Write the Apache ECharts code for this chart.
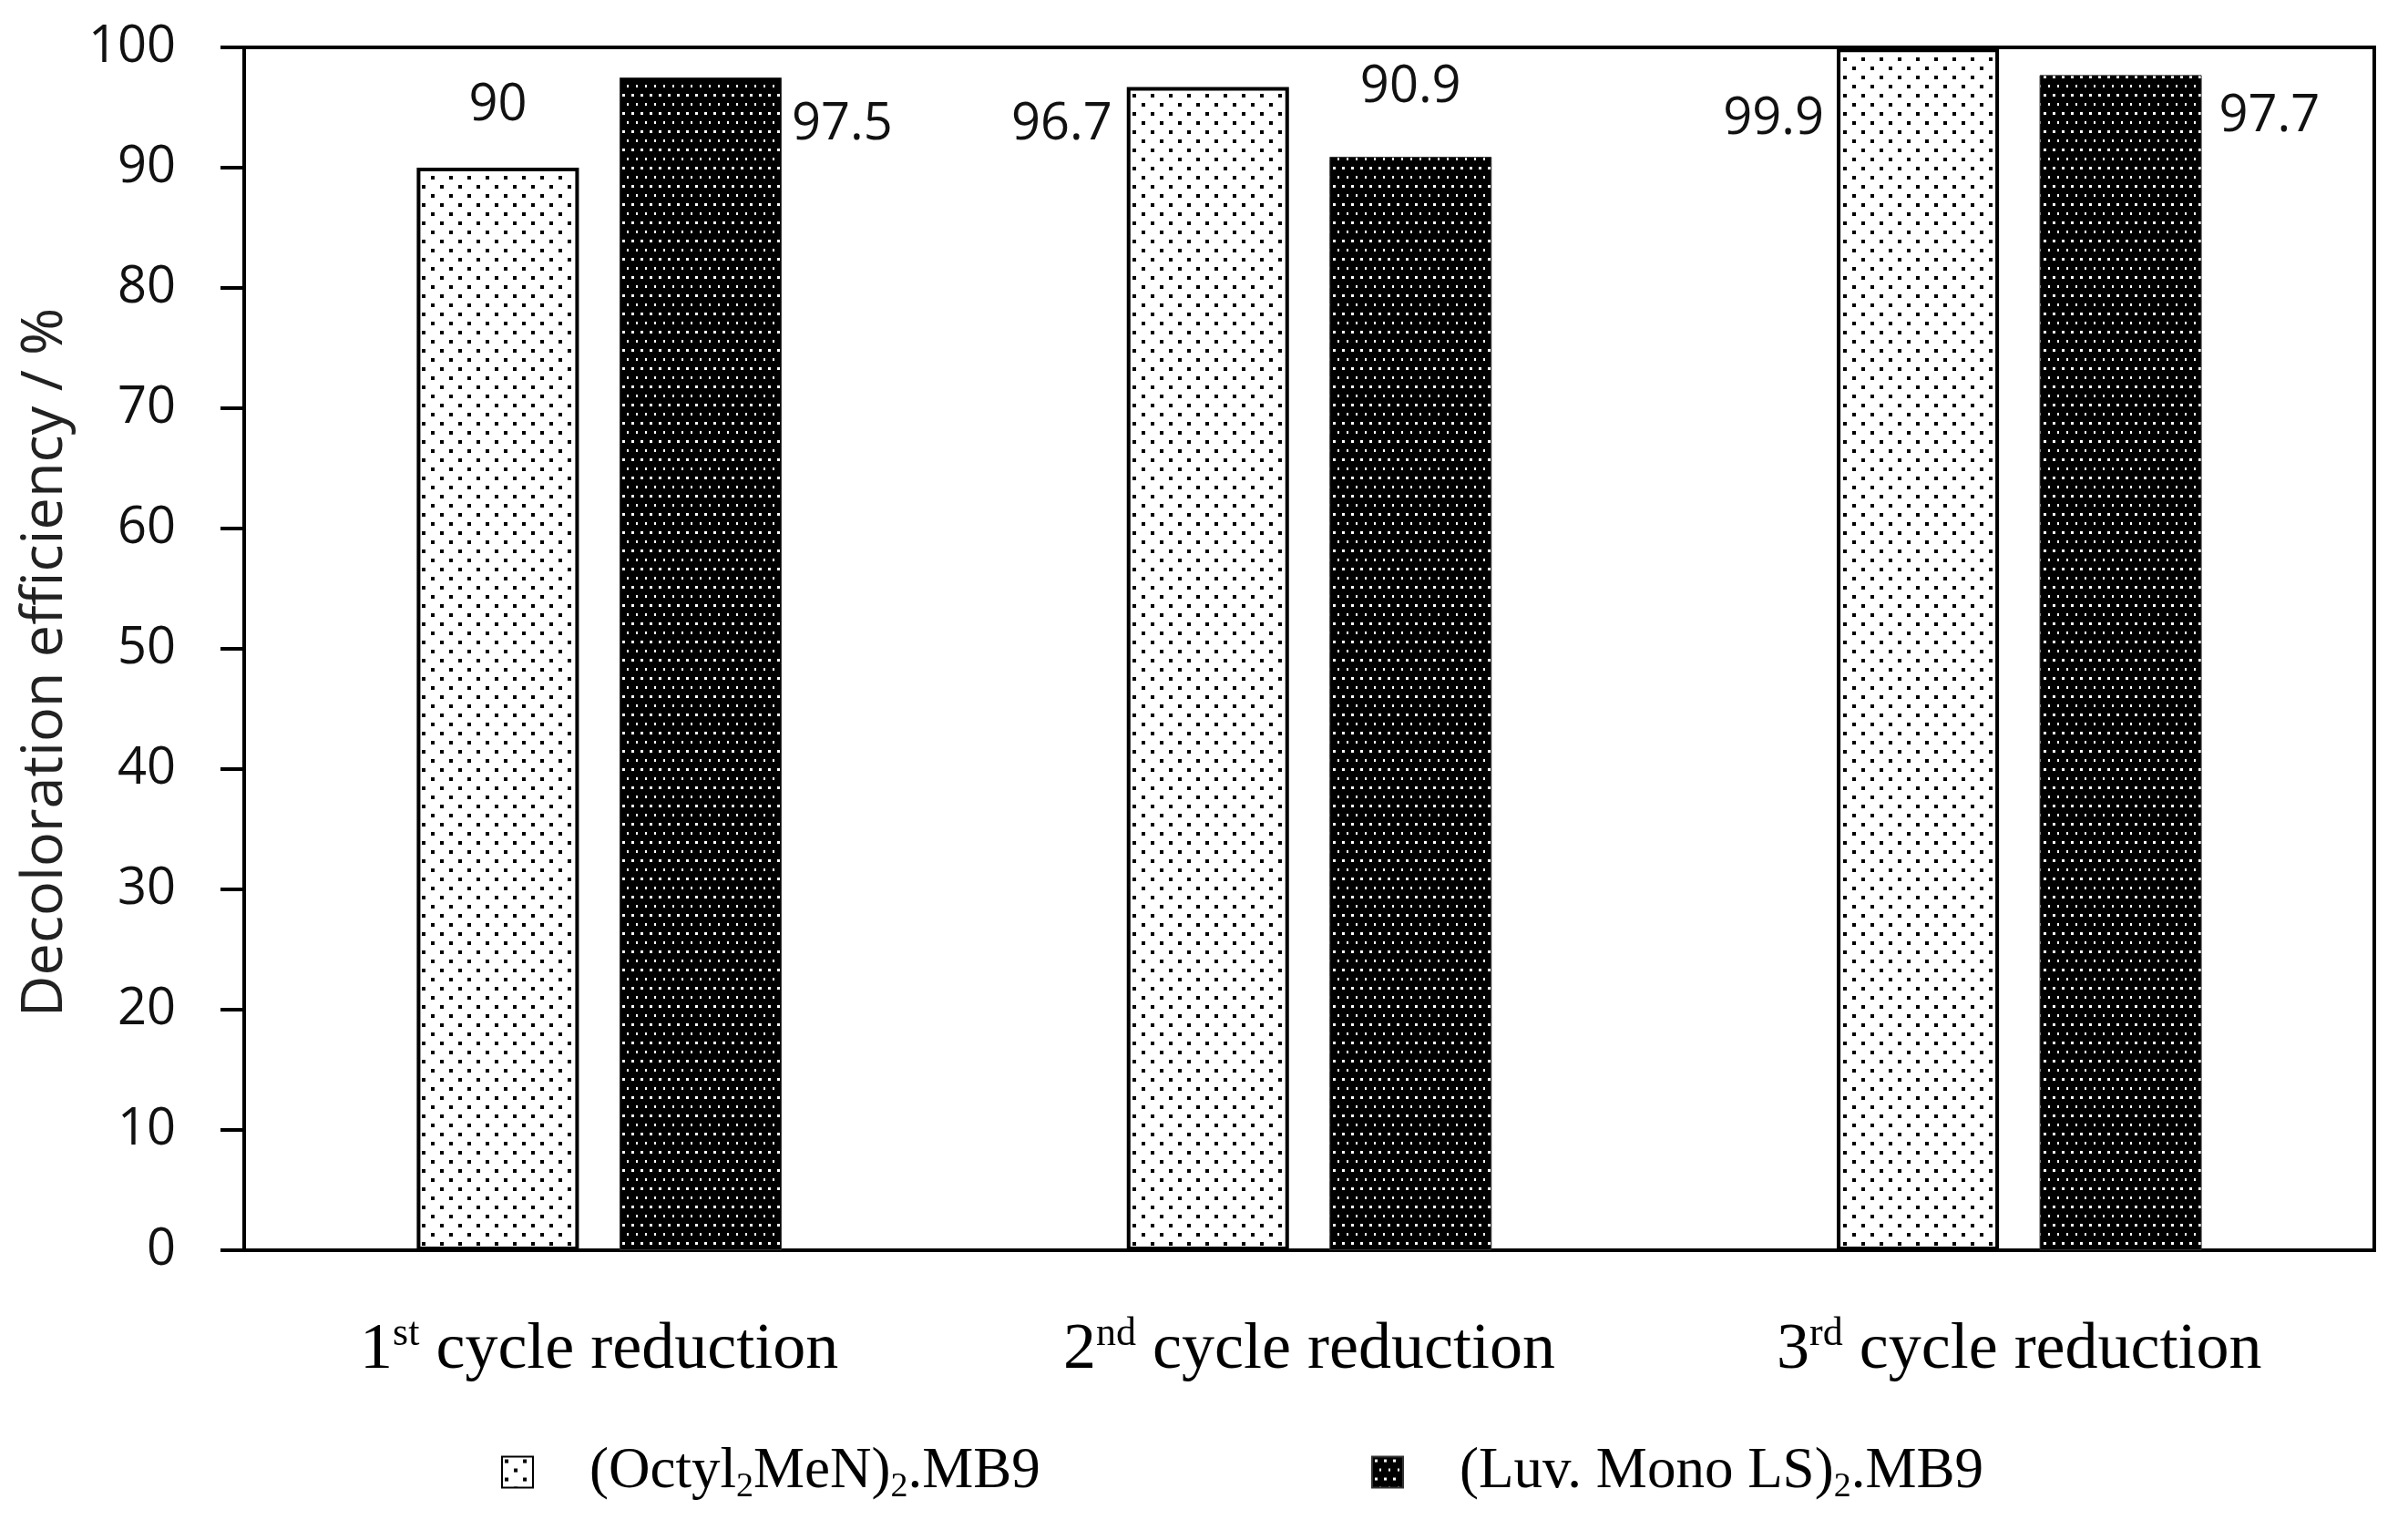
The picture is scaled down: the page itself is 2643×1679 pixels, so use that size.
<!DOCTYPE html>
<html>
<head>
<meta charset="utf-8">
<script src="https://cdn.jsdelivr.net/npm/echarts@6/dist/echarts.min.js"></script>
<style>
  html, body { margin: 0; padding: 0; background: #fff; }
  #chart { width: 2643px; height: 1679px; }
</style>
</head>
<body>
<div id="chart"></div>
<script>
// data
var categories = ['1st cycle reduction', '2nd cycle reduction', '3rd cycle reduction'];
var seriesNames = ['(Octyl₂MeN)₂.MB9', '(Luv. Mono LS)₂.MB9'];
var octylValues = [90, 96.7, 99.9];
var luvValues = [97.5, 90.9, 97.7];
var yMin = 0, yMax = 100, yStep = 10;
var yTitle = 'Decoloration efficiency / %';

// where each value label sits relative to its bar (style only)
var octylLabelPos = [
  { position: ['50%', -68], align: 'center', offset: [0, 0] },
  { position: [0, 41], align: 'right', offset: [-16, 0] },
  { position: [0, 78], align: 'right', offset: [-14, 0] }
];
var luvLabelPos = [
  { position: ['100%', 52], align: 'left', offset: [11, 0] },
  { position: ['50%', -76], align: 'center', offset: [0, 0] },
  { position: ['100%', 46], align: 'left', offset: [19, 0] }
];

var serifFont = '"Liberation Serif", "Times New Roman", serif';
var sansFont = '"Open Sans", "Noto Sans", sans-serif';

/** small tiled patterns for the bar fills */
function makePattern(w, h, bg, fg, dots, size) {
  var c = document.createElement('canvas');
  c.width = w;
  c.height = h;
  var ctx = c.getContext('2d');
  ctx.fillStyle = bg;
  ctx.fillRect(0, 0, w, h);
  ctx.fillStyle = fg;
  dots.forEach(function (d) {
    ctx.fillRect(d[0], d[1], size, size);
  });
  return { image: c, repeat: 'repeat' };
}

var octylFill = makePattern(20, 20, '#fff', '#000', [[3, 3], [13, 13]], 4);
var luvFill = makePattern(10, 20, '#000', '#fff', [[3, 3], [8, 13]], 3);

function buildData(values, placements) {
  return values.map(function (v, i) {
    var p = placements[i];
    return {
      value: v,
      label: {
        position: p.position,
        align: p.align,
        verticalAlign: 'middle',
        offset: p.offset
      }
    };
  });
}

// "1st" -> superscript, "₂" -> subscript
function catFormatter(text) {
  var m = text.match(/^(\d)(st|nd|rd|th)(.*)$/);
  if (!m) return '{m|' + text + '}';
  return '{m|' + m[1] + '}{sup|' + m[2] + '}{m|' + m[3] + '}';
}
function nameFormatter(text) {
  return text.split('₂').map(function (s) {
    return '{m|' + s + '}';
  }).join('{sub|2}');
}

var labelCommon = {
  show: true,
  fontFamily: sansFont,
  fontSize: 56,
  color: '#111',
  formatter: '{c}'
};

var legendText = {
  fontFamily: serifFont,
  padding: [0, 0, 0, 57],
  rich: {
    m: { fontFamily: serifFont, fontSize: 63, color: '#000', lineHeight: 72 },
    sub: { fontFamily: serifFont, fontSize: 38, color: '#000', verticalAlign: 'bottom', lineHeight: 54 }
  }
};

var chart = echarts.init(document.getElementById('chart'), null, { renderer: 'canvas' });

var option = {
  backgroundColor: '#fff',
  animation: false,
  grid: {
    left: 268,
    right: 37,
    top: 52,
    bottom: 307,
    show: true,
    borderColor: '#000',
    borderWidth: 4
  },
  legend: [{
    data: [seriesNames[0]],
    left: 545,
    top: 1579,
    icon: 'rect',
    itemWidth: 34,
    itemHeight: 34,
    formatter: nameFormatter,
    textStyle: legendText
  }, {
    data: [seriesNames[1]],
    left: 1500,
    top: 1579,
    icon: 'rect',
    itemWidth: 34,
    itemHeight: 34,
    formatter: nameFormatter,
    textStyle: legendText
  }],
  xAxis: {
    type: 'category',
    data: categories,
    axisLine: { lineStyle: { color: '#000', width: 4 } },
    axisTick: { show: false },
    axisLabel: {
      margin: 70,
      formatter: catFormatter,
      rich: {
        m: { fontFamily: serifFont, fontSize: 72, color: '#000', lineHeight: 80 },
        sup: { fontFamily: serifFont, fontSize: 44, color: '#000', verticalAlign: 'top', lineHeight: 48 }
      }
    }
  },
  yAxis: {
    type: 'value',
    min: yMin,
    max: yMax,
    interval: yStep,
    name: yTitle,
    nameLocation: 'middle',
    nameGap: 186,
    nameTextStyle: { fontFamily: sansFont, fontSize: 63, color: '#222', padding: [0, 30, 0, 0] },
    splitLine: { show: false },
    axisLine: { show: true, lineStyle: { color: '#000', width: 4 } },
    axisTick: { show: true, length: 26, lineStyle: { color: '#000', width: 4 } },
    axisLabel: { margin: 75, fontFamily: sansFont, fontSize: 56, color: '#111' }
  },
  series: [{
    name: seriesNames[0],
    type: 'bar',
    barWidth: 178,
    barGap: '25%',
    data: buildData(octylValues, octylLabelPos),
    label: labelCommon,
    itemStyle: { color: octylFill, borderColor: '#000', borderWidth: 4 }
  }, {
    name: seriesNames[1],
    type: 'bar',
    barWidth: 178,
    data: buildData(luvValues, luvLabelPos),
    label: labelCommon,
    itemStyle: { color: luvFill, borderColor: '#333', borderWidth: 1 }
  }]
};

chart.setOption(option);
</script>
</body>
</html>
